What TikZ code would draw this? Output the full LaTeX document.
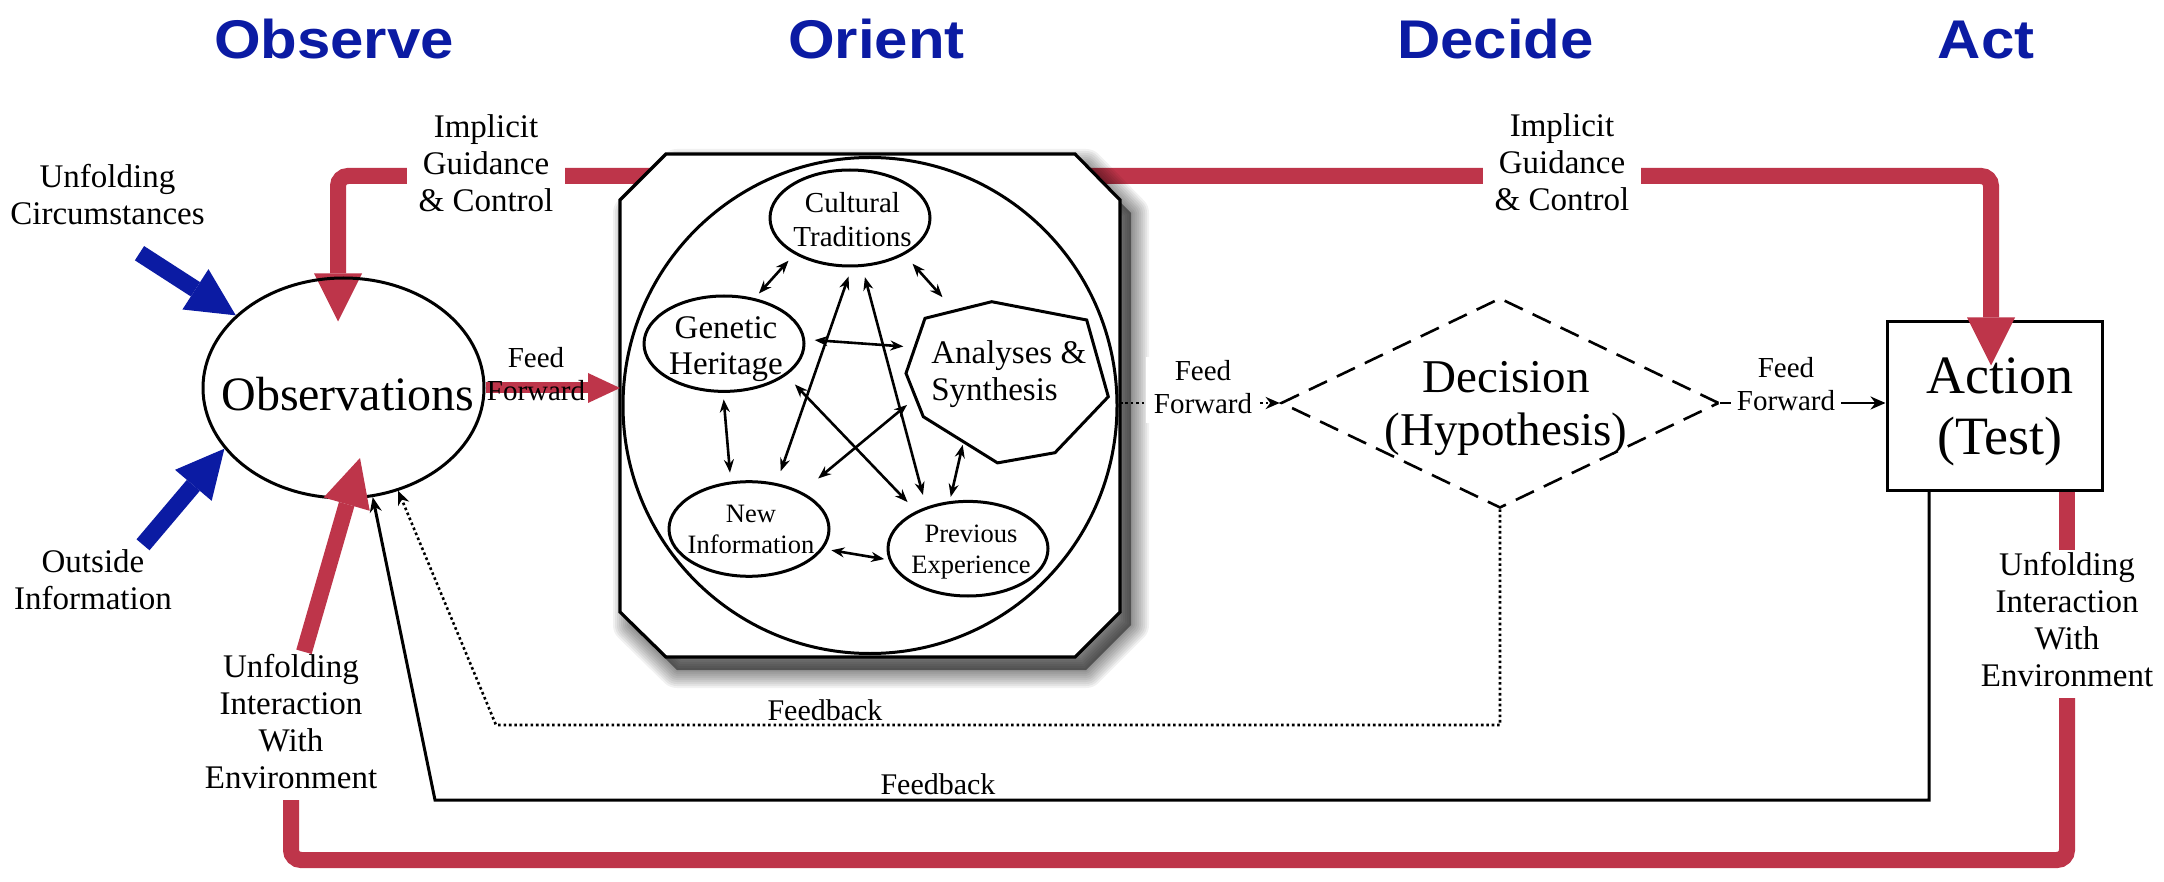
\documentclass[tikz,border=0pt]{standalone}
\usepackage{graphicx}
\usepackage{fontspec}
\setmainfont{Liberation Serif}
\newfontfamily\titlefont{Liberation Sans}
\usetikzlibrary{arrows.meta,calc,shapes.geometric}
\pgfdeclarelayer{background}
\pgfsetlayers{background,main}
\definecolor{tblue}{RGB}{11,27,163}
\definecolor{ored}{RGB}{190,53,74}
% zero-size centred text block: #1 x-shift, #2 downward shift, #3 column type, #4 text
\newcommand{\tx}[4]{\makebox[0pt]{\hspace*{#1}\hspace*{#1}\raisebox{\dimexpr-0.25em-#2\relax}[0pt][0pt]{\begin{tabular}{@{}#3@{}}#4\end{tabular}}}}
\newcommand{\lbl}[1]{\begin{tabular}{@{}c@{}}#1\end{tabular}}
\newcommand{\octpath}[2]{($(orient.north west)+(46+#1,#2)$) -- ($(orient.north east)+(-45+#1,#2)$) -- ($(orient.north east)+(#1,46+#2)$) -- ($(orient.south east)+(#1,-45+#2)$) -- ($(orient.south east)+(-45+#1,#2)$) -- ($(orient.south west)+(46+#1,#2)$) -- ($(orient.south west)+(#1,-45+#2)$) -- ($(orient.north west)+(#1,46+#2)$) -- cycle}
\tikzset{
  titletext/.style={anchor=base, text=tblue, font=\titlefont\bfseries\fontsize{54.5}{60}\selectfont},
  lab/.style={inner sep=0pt, font=\fontsize{33}{37}\selectfont},
  fflab/.style={inner sep=0pt, font=\fontsize{29}{33}\selectfont},
  fblab/.style={inner sep=0pt, font=\fontsize{30}{33}\selectfont},
  redthick/.style={draw=ored, line width=16pt},
  bigtip/.style={-{Triangle[length=48pt,width=48pt,line width=0pt]}},
  bluearrow/.style={draw=tblue, line width=17pt, -{Triangle[length=48pt,width=48pt,line width=0pt]}},
  inell/.style={ellipse, draw, line width=3pt, minimum width=160pt, inner sep=0pt},
  ia/.style={line width=2.6pt, {Stealth[length=13pt,width=10pt]}-{Stealth[length=13pt,width=10pt]}},
  blktip/.style={-{Stealth[length=15pt,width=12pt]}},
  dotline/.style={line width=2.6pt, dash pattern=on 2.6pt off 2.8pt},
}
\begin{document}
\begin{tikzpicture}[x=1pt,y=-1pt]
\begin{pgfonlayer}{background}
\fill[white] (0,0) rectangle (2164,882);
\end{pgfonlayer}
\useasboundingbox (0,0) rectangle (2164,882);

% titles
\node[titletext] (t1) at (334,59) {\scalebox{1.1}[1]{Observe}};
\node[titletext] (t2) at (876.5,59) {\scalebox{1.1}[1]{Orient}};
\node[titletext] (t3) at (1495.6,59) {\scalebox{1.1}[1]{Decide}};
\node[titletext] (t4) at (1986,59) {\scalebox{1.1}[1]{Act}};

% observations
\node[ellipse, draw, line width=3pt, minimum width=281pt, minimum height=220pt, inner sep=0pt,
      font=\fontsize{48}{52}\selectfont] (obs) at (343.5,388) {\tx{4.5pt}{6.6pt}{c}{Observations}};

% orient box with soft shadow
\node[inner sep=0pt, outer sep=0pt, minimum width=500pt, minimum height=503pt] (orient) at (870,405.5) {};
\foreach \w in {36,32,28,24,20,16,12,8,4} {
  \draw[black, opacity=0.055, line width=\w pt, line join=round] \octpath{11}{13};
}
\fill[black, opacity=0.45] \octpath{11}{13};
\draw[line width=3.2pt, fill=white] \octpath{0}{0};
\node[ellipse, draw, line width=3pt, minimum width=494pt, minimum height=496pt, inner sep=0pt] (orientcircle) at (orient.center) {};

\node[inell, minimum height=96pt, font=\fontsize{29}{33.6}\selectfont] (ct) at (850,218) {\tx{2.5pt}{3.5pt}{c}{Cultural\\Traditions}};
\node[inell, minimum height=95.4pt, font=\fontsize{33}{36.5}\selectfont] (gh) at (724,343.7) {\tx{2pt}{3.7pt}{c}{Genetic\\Heritage}};
\node[inell, minimum height=94.6pt, font=\fontsize{26.5}{31}\selectfont] (ni) at (749,529) {\tx{2pt}{2.4pt}{c}{New\\Information}};
\node[inell, minimum height=94.6pt, font=\fontsize{26.5}{30.4}\selectfont] (pe) at (968,548.7) {\tx{3pt}{3pt}{c}{Previous\\Experience}};
\node[ellipse, inner sep=0pt, minimum width=202pt, minimum height=160pt, font=\fontsize{33}{36.6}\selectfont] (as) at (1007,382.3) {\tx{1.75pt}{-9.6pt}{l}{Analyses \&\\Synthesis}};
\draw[line width=3pt] (925,318.3) -- (991.7,301.7) -- (1086.7,320) -- (1108.3,396.7) -- (1055,452.7) -- (997.5,462.9) -- (923.3,416.7) -- (906,373.3) -- cycle;

\draw[ia, shorten <=8.7pt, shorten >=6.2pt] (ct.213.8) -- (gh.56.2);
\draw[ia, shorten <=12pt, shorten >=21pt] (ct.326.3) -- (as.126.3);
\draw[ia, shorten <=9.5pt, shorten >=12.6pt] (gh.3.1) -- (as.159.8);
\draw[ia, shorten <=6.5pt, shorten >=8.9pt] (gh.269.2) -- (ni.111.2);
\draw[ia, shorten <=9.6pt, shorten >=12.6pt] (ct.272.9) -- (ni.59.1);
\draw[ia, shorten <=10.6pt, shorten >=12.3pt] (ct.284.6) -- (pe.135.6);
\draw[ia, shorten <=12.5pt, shorten >=12.4pt] (gh.333.4) -- (pe.144.3);
\draw[ia, shorten <=2.9pt, shorten >=21pt] (as.192.8) -- (ni.35.9);
\draw[ia, shorten <=-9pt, shorten >=4.4pt] (as.237.2) -- (pe.111.6);
\draw[ia, shorten <=8.1pt, shorten >=4.5pt] (ni.345.8) -- (pe.188.1);

% action box and implicit guidance (under)
\begin{pgfonlayer}{background}
\node[draw, line width=3pt, fill=white, minimum width=215pt, minimum height=168pt, inner sep=0pt] (act) at (1994.5,406) {};
\coordinate (g) at ($(orient.north)+(0,22)$);
\draw[redthick, rounded corners=10pt, bigtip] (g) -| ($(obs.north)+(-5.5,45)$);
\draw[redthick, rounded corners=10pt, bigtip] (g) -| ($(act.north)+(-3.5,45)$);
\end{pgfonlayer}
\node[inner sep=0pt, font=\fontsize{54}{61}\selectfont] (acttxt) at (2000,412.3) {\lbl{Action\\(Test)}};

\node[lab, fill=white, inner xsep=12pt] (igc1) at (486,167) {\lbl{Implicit\\Guidance\\\& Control}};
\node[lab, fill=white, inner xsep=12pt] (igc2) at (1562,166) {\lbl{Implicit\\Guidance\\\& Control}};

% outside inputs
\node[lab] (uc) at (107.5,199) {\lbl{Unfolding\\Circumstances}};
\node[lab] (oi) at (93,584) {\lbl{Outside\\Information}};
\draw[bluearrow] ($(uc.south)+(32,17)$) -- (obs.146.2);
\draw[bluearrow] ($(oi.north)+(50,-2)$) -- (obs.207.9);

% feed forward observe -> orient
\draw[draw=ored, line width=11pt, -{Triangle[length=32pt,width=30pt,line width=0pt]}] (obs.east) -- (obs.east -| orient.west);
\node[fflab] (ff1) at (536,377) {\lbl{Feed\\Forward}};

% decision
\node[diamond, draw, line width=2.6pt, dash pattern=on 20pt off 11pt, minimum width=438pt, minimum height=210pt, inner sep=0pt] (dec) at (1500,403) {};
\node[inner sep=0pt, font=\fontsize{47}{53}\selectfont] (dectxt) at (1506,408) {\lbl{Decision\\(Hypothesis)}};

\draw[dotline, -{Stealth[length=14pt,width=12pt]}] (orient.east |- dec.west) -- (dec.west);
\node[fflab, fill=white, inner xsep=8pt] (ff2) at (1203,390) {\lbl{Feed\\Forward}};
\draw[line width=2.6pt, -{Stealth[length=15pt,width=13pt]}] (dec.east) -- (dec.east -| act.west);
\node[fflab, fill=white, inner xsep=6pt] (ff3) at (1786,387.5) {\lbl{Feed\\Forward}};

% feedback loops
\coordinate (fbc) at (435,800);
\coordinate (dfc) at (496,725);
\draw[line width=3pt, blktip] ($(act.south)+(-65.5,0)$) |- (fbc) -- (obs.285.3);
\draw[dotline, -{Stealth[length=14pt,width=12pt]}] (dec.south) |- (dfc) -- (obs.298.3);
\node[fblab] (fb1) at (825,710) {Feedback};
\node[fblab] (fb2) at (938,784) {Feedback};

% unfolding interaction with environment
\node[lab, inner xsep=2pt] (envR) at (2067,624) {\lbl{Unfolding\\Interaction\\With\\Environment}};
\node[lab, inner xsep=2pt] (envL) at (291,726) {\lbl{Unfolding\\Interaction\\With\\Environment}};
\coordinate (bot) at (0,860);
\draw[redthick] ($(act.south)+(72.5,0)$) -- (envR.north);
\draw[redthick, rounded corners=10pt] (envR.south) |- (envL.south |- bot) -- (envL.south);
\draw[redthick, bigtip] ($(envL.north)+(13,0)$) -- ($(obs.center)+(16.5,70)$);
\end{tikzpicture}
\end{document}
